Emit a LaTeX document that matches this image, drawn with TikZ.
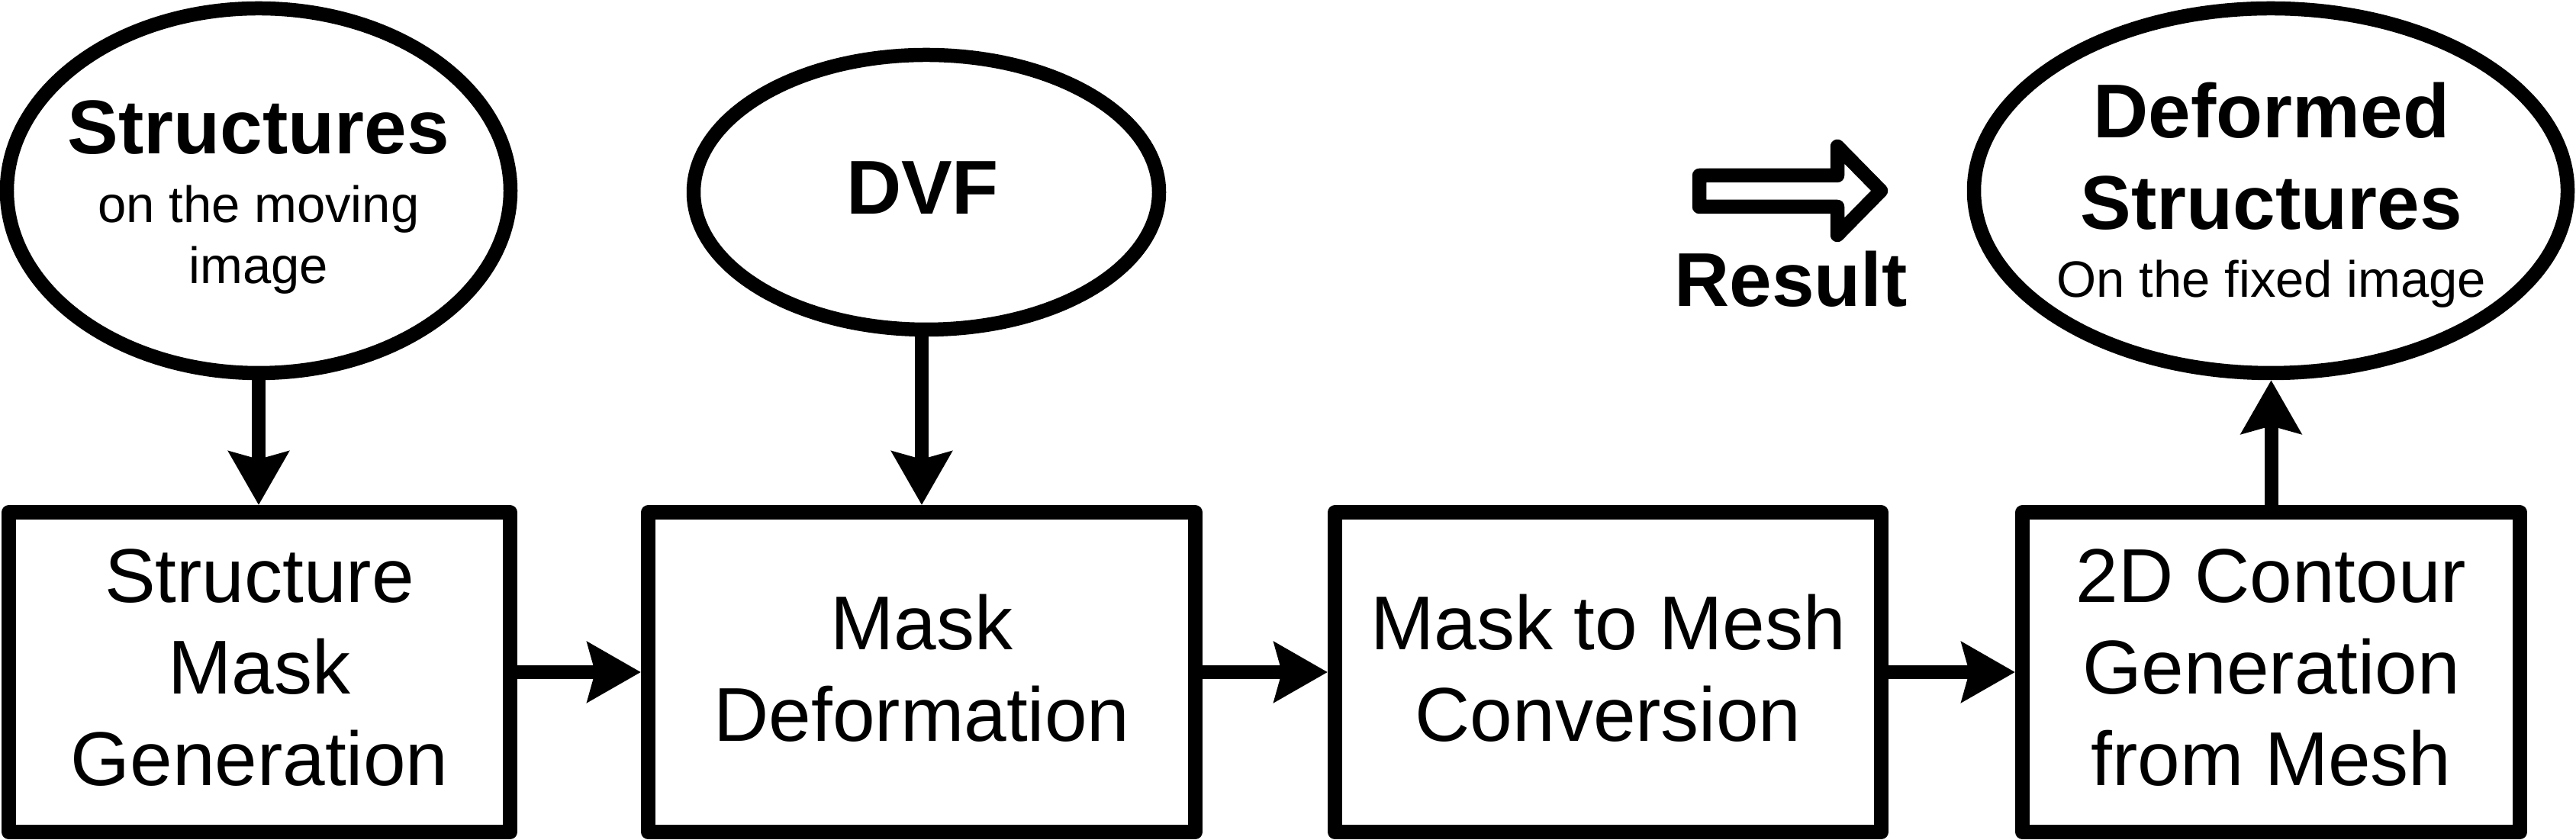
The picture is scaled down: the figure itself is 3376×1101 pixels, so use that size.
\documentclass[tikz,border=0pt]{standalone}
\usepackage{fontspec}
\setmainfont{Liberation Sans}
\usetikzlibrary{arrows.meta,shapes.geometric}
\newcommand{\lowstrut}{\rule[-2.4pt]{0pt}{0pt}}
\begin{document}
\begin{tikzpicture}[x=0.2pt,y=-0.2pt,
  box/.style={draw, line width=3.8pt, line join=round, minimum height=83.8pt, align=center, inner sep=0pt, font=\fontsize{20}{24}\selectfont},
  oval/.style={draw, ellipse, line width=3.7pt, inner sep=0pt},
  big/.style={font=\fontsize{20}{24}\selectfont\bfseries, anchor=base, inner sep=0pt},
  small/.style={font=\fontsize{13.4}{16}\selectfont, anchor=base, inner sep=0pt},
  arr/.style={line width=3.6pt, -{Stealth[length=14pt,width=15.6pt,inset=2pt]}},
  blockarrow/.style={line width=3.7pt, line join=round}
]
\useasboundingbox (0,0) rectangle (3376,1101);

% process boxes
\node[box, minimum width=131.4pt] (b1) at (340,881) {Structure\\Mask\\Generation\lowstrut};
\node[box, minimum width=143.4pt] (b2) at (1208,881) {Mask\\Deformation\lowstrut};
\node[box, minimum width=143.2pt] (b3) at (2107.5,881) {Mask to Mesh\\Conversion\lowstrut};
\node[box, minimum width=130.4pt] (b4) at (2976.5,881) {2D Contour\\Generation\\from Mesh\lowstrut};

% ellipses
\node[oval, minimum width=132pt, minimum height=95.6pt] (e1) at (339,250) {};
\node[oval, minimum width=122pt, minimum height=72pt] (e2) at (1214,252) {};
\node[oval, minimum width=155.6pt, minimum height=95.6pt] (e3) at (2976,250) {};

% ellipse texts
\node[big] (t1a) at (339,202) {Structures};
\node[small] (t1b) at (339,292) {on the moving};
\node[small] (t1c) at (339,372) {image};
\node[big] (t2) at (1209,281) {DVF};
\node[big] (t3a) at (2977,181) {Deformed};
\node[big] (t3b) at (2977,301) {Structures};
\node[small] (t3c) at (2977,390) {On the fixed image};

% result legend
\draw[blockarrow] (2227,230) -- (2408,230) -- (2408,192) -- (2465,250) -- (2408,308) -- (2408,271) -- (2227,271) -- cycle;
\node[big] (res) at (2347,402) {Result};

% connectors
\draw[arr] (e1.south) -- (e1.south |- b1.north);
\draw[arr] (b2.north |- e2.south) -- (b2.north);
\draw[arr] (b1.east) -- (b2.west);
\draw[arr] (b2.east) -- (b3.west);
\draw[arr] (b3.east) -- (b4.west);
\draw[arr] (b4.north) -- (b4.north |- e3.south);
\end{tikzpicture}
\end{document}
